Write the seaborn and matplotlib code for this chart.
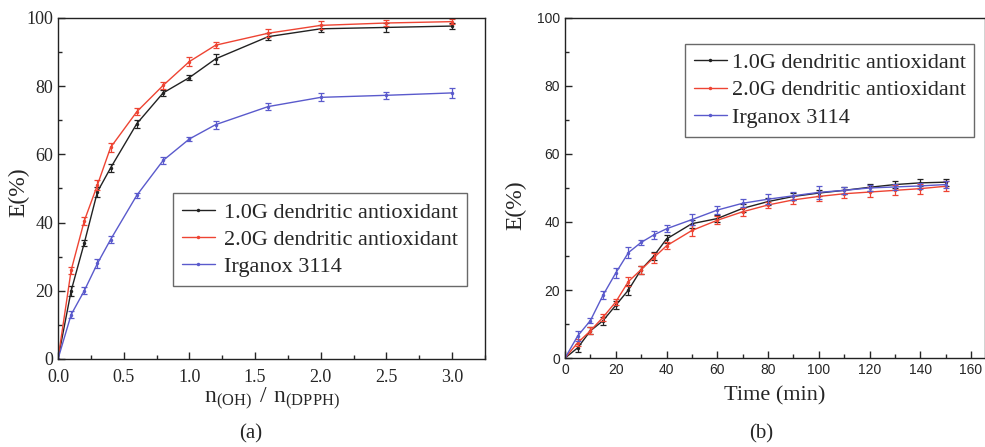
import numpy as np
import pandas as pd
import matplotlib
matplotlib.use("Agg")
import matplotlib.pyplot as plt
from matplotlib.ticker import MultipleLocator
from matplotlib.lines import Line2D
import seaborn as sns

# panel (a): ratio n(OH)/n(DPPH)
ratio = [0, 0.1, 0.2, 0.3, 0.4, 0.6, 0.8, 1.0, 1.2, 1.6, 2.0, 2.5, 3.0]
a_g1 = [0, 20, 34, 49, 56, 69, 78, 82.5, 88, 94.5, 96.8, 97.2, 97.6]
a_g2 = [0, 26, 40.5, 51, 62, 72.5, 80.2, 87.2, 92, 95.5, 97.8, 98.5, 98.9]
a_irg = [0, 13, 20, 28, 35, 48, 58.2, 64.5, 68.7, 74, 76.7, 77.3, 78]
a_g1_err = [0, 1.5, 1, 1.5, 1.2, 1.2, 1, 0.8, 1.5, 1, 1, 1.2, 0.8]
a_g2_err = [0, 1, 1.2, 1.5, 1.2, 1, 1, 1.2, 0.8, 1.2, 1.2, 1, 0.8]
a_irg_err = [0, 1, 1, 1.2, 1, 0.8, 1, 0.6, 1.2, 1, 1.2, 1, 1.5]

# panel (b): time
time_min = [0, 5, 10, 15, 20, 25, 30, 35, 40, 50, 60, 70, 80, 90, 100, 110, 120, 130, 140, 150]
b_g1 = [0, 3, 8, 11, 15.5, 20, 26, 30, 35, 39.5, 41, 44, 46, 47.5, 48.5, 49.3, 50.2, 51, 51.5, 51.7]
b_g2 = [0, 4.5, 8, 12, 16.5, 22.5, 26, 29.5, 33, 37.5, 40.5, 43, 45, 46.5, 47.5, 48.3, 48.8, 49.3, 49.8, 50.5]
b_irg = [0, 6.5, 11, 18.5, 25, 31, 34, 36.2, 38, 40.7, 43.5, 45.5, 46.7, 47.7, 48.7, 49.3, 50, 50.3, 50.6, 51]
b_g1_err = [0, 1.2, 1, 1.2, 1.2, 1.5, 1.2, 1.2, 1.2, 1.2, 1, 1.2, 1, 1, 1, 1, 1, 1, 1, 1]
b_g2_err = [0, 1, 1, 1, 1, 1.2, 1.2, 1.5, 1, 1.5, 1.2, 1.2, 1, 1.2, 1.2, 1.2, 1.5, 1.5, 1.5, 1.5]
b_irg_err = [0, 1.5, 0.8, 1.2, 1.5, 1.5, 0.8, 1.2, 1, 1.5, 1.2, 1.2, 1.5, 1.2, 2, 1, 1, 1, 1, 1]

labels = ["1.0G dendritic antioxidant", "2.0G dendritic antioxidant", "Irganox 3114"]
colors = ["#222222", "#ee4433", "#5a5acc"]

sns.set_style("white")
serif = "Liberation Serif"
sans = "Liberation Sans"
plt.rcParams["mathtext.fontset"] = "custom"
plt.rcParams["mathtext.rm"] = serif

fig = plt.figure(figsize=(9.85, 4.47), dpi=100)
ax1 = fig.add_axes([0.0589, 0.197, 0.4335, 0.763])
ax2 = fig.add_axes([0.5736, 0.199, 0.4264, 0.761])


def draw(ax, x, series, errs):
    for ys, es, lab, col in zip(series, errs, labels, colors):
        df = pd.DataFrame({"x": x, "y": ys})
        sns.lineplot(data=df, x="x", y="y", ax=ax, color=col, lw=1.0,
                     marker="o", markersize=2.5, markeredgewidth=0, label=lab)
        ax.errorbar(x[1:], ys[1:], yerr=es[1:], fmt="none", ecolor=col,
                    elinewidth=0.9, capsize=2.5, capthick=0.9)


draw(ax1, ratio, [a_g1, a_g2, a_irg], [a_g1_err, a_g2_err, a_irg_err])
draw(ax2, time_min, [b_g1, b_g2, b_irg], [b_g1_err, b_g2_err, b_irg_err])

handles = [Line2D([0], [0], color=c, lw=1.0, marker="o", markersize=2.5,
                  markeredgewidth=0) for c in colors]

# panel (a) styling
ax1.set_xlim(0, 3.25)
ax1.set_ylim(0, 100)
ax1.xaxis.set_major_locator(MultipleLocator(0.5))
ax1.xaxis.set_minor_locator(MultipleLocator(0.25))
ax1.yaxis.set_major_locator(MultipleLocator(20))
ax1.yaxis.set_minor_locator(MultipleLocator(10))
ax1.set_xticks([0, 0.5, 1.0, 1.5, 2.0, 2.5, 3.0])
ax1.set_xticklabels(["0.0", "0.5", "1.0", "1.5", "2.0", "2.5", "3.0"])
ax1.tick_params(which="both", direction="in", bottom=True, left=True)
ax1.tick_params(which="major", length=5, width=1)
ax1.tick_params(which="minor", length=3, width=1)
ax1.tick_params(axis="x", pad=7)
for lab in ax1.get_xticklabels() + ax1.get_yticklabels():
    lab.set_fontfamily(serif)
    lab.set_fontsize(13)
ax1.set_xlabel(r"$\mathregular{n_{(OH)}\ /\ n_{(DPPH)}}$", fontsize=17, family=serif, labelpad=0)
ax1.set_ylabel("E(%)", fontsize=17, family=serif)
ax1.yaxis.set_label_coords(-0.068, 0.49)
ax1.legend(handles, labels, loc="upper right", bbox_to_anchor=(0.957, 0.486),
           prop={"family": serif, "size": 16}, frameon=True, fancybox=False,
           edgecolor="#444444", handlelength=1.5, handletextpad=0.4,
           borderpad=0.4, labelspacing=0.3, borderaxespad=0)

# panel (b) styling
ax2.set_xlim(0, 165.5)
ax2.set_ylim(0, 100)
ax2.xaxis.set_major_locator(MultipleLocator(20))
ax2.xaxis.set_minor_locator(MultipleLocator(10))
ax2.yaxis.set_major_locator(MultipleLocator(20))
ax2.yaxis.set_minor_locator(MultipleLocator(10))
ax2.tick_params(which="both", direction="in", bottom=True, left=True)
ax2.tick_params(which="major", length=5, width=1)
ax2.tick_params(which="minor", length=3, width=1)
for lab in ax2.get_xticklabels() + ax2.get_yticklabels():
    lab.set_fontfamily(sans)
    lab.set_fontsize(10)
ax2.set_xlabel("Time (min)", fontsize=16, family=serif, labelpad=7)
ax2.set_ylabel("E(%)", fontsize=17, family=serif)
ax2.yaxis.set_label_coords(-0.093, 0.45)
ax2.legend(handles, labels, loc="upper right", bbox_to_anchor=(0.975, 0.924),
           prop={"family": serif, "size": 16}, frameon=True, fancybox=False,
           edgecolor="#444444", handlelength=1.5, handletextpad=0.2,
           borderpad=0.4, labelspacing=0.3, borderaxespad=0)

for ax in (ax1, ax2):
    for sp in ax.spines.values():
        sp.set_color("#222222")
        sp.set_linewidth(1.0)

fig.text(0.255, 0.018, "(a)", fontsize=15, family=serif, ha="center")
fig.text(0.773, 0.018, "(b)", fontsize=15, family=serif, ha="center")

fig.savefig("out.png", dpi=100)
